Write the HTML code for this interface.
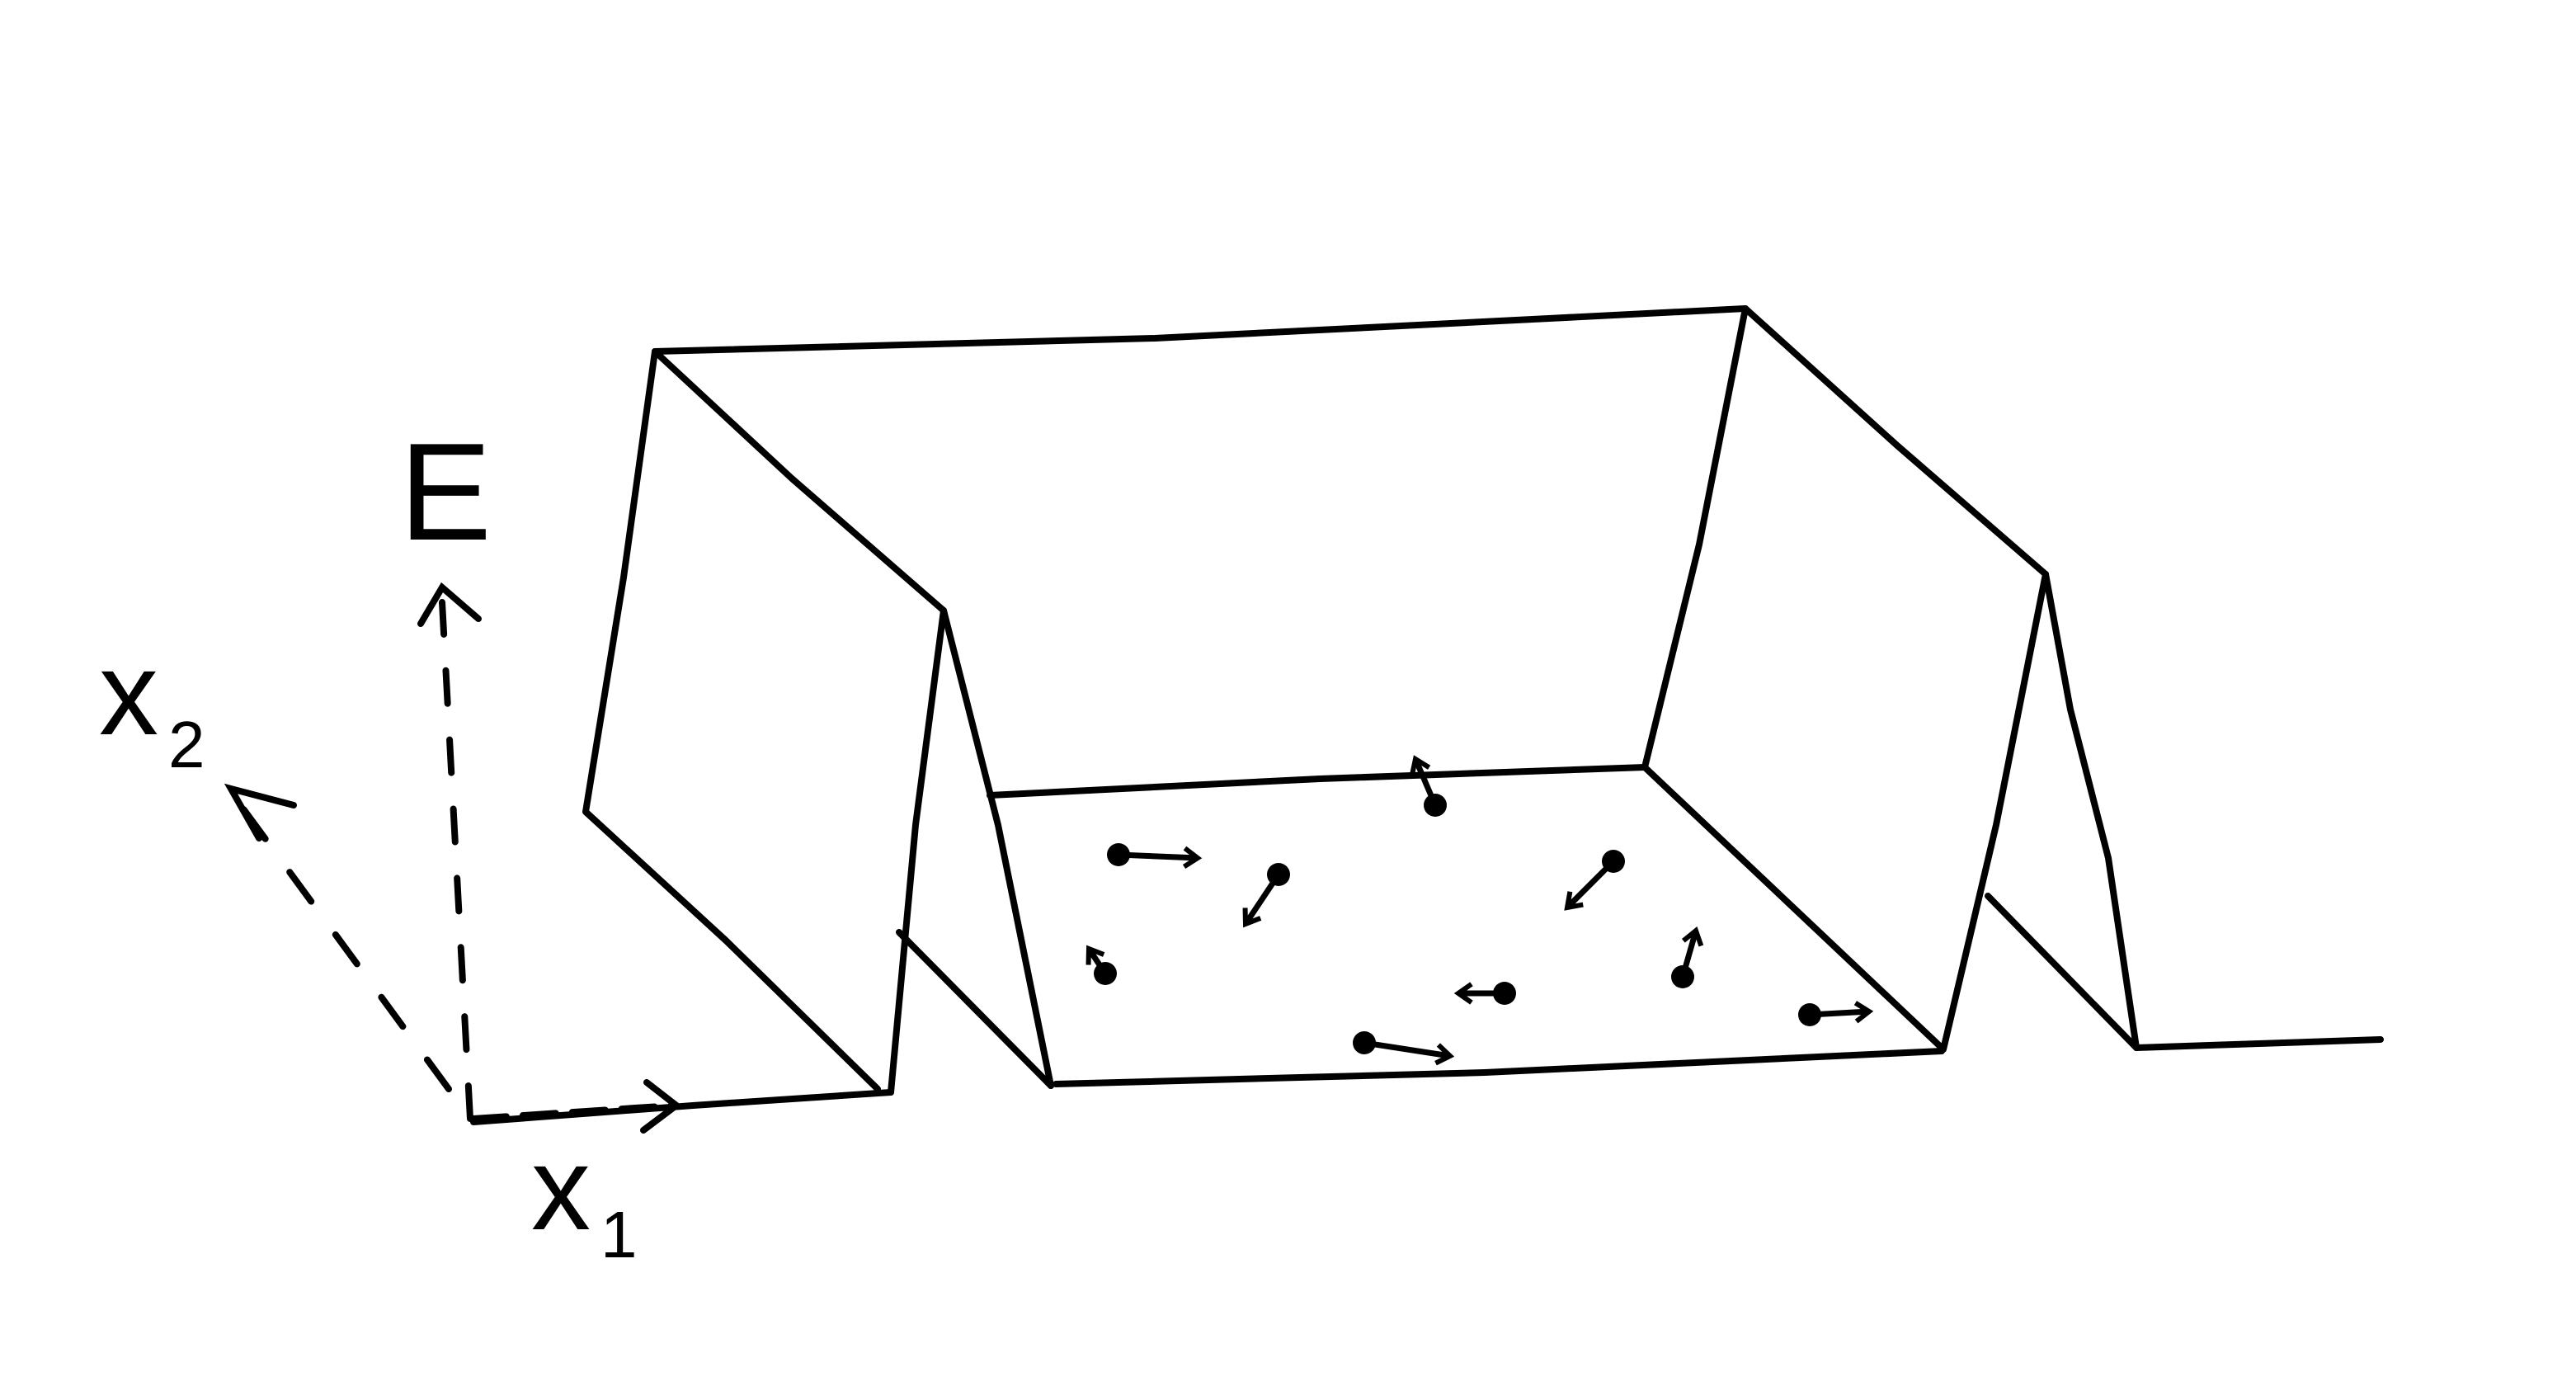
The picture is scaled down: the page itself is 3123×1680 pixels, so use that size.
<!DOCTYPE html>
<html><head><meta charset="utf-8"><style>
html,body{margin:0;padding:0;background:#fff;width:3123px;height:1680px;overflow:hidden}
svg{display:block}
</style></head><body>
<svg id="sk" width="3123" height="1680" viewBox="0 0 1561.5 840" xmlns="http://www.w3.org/2000/svg">
<g fill="none" stroke="#000" stroke-width="4" stroke-linecap="round" stroke-linejoin="round">
  <path d="M397 213 L700 205 L1058 187"/>
  <path d="M397 213 L378 350 L355 492 L440 570 L532 660"/>
  <path d="M397 213 L480 290 L572 370"/>
  <path d="M572 370 L555 500 L540 662"/>
  <path d="M572 370 L605 500 L637 658"/>
  <path d="M545 565 L637 658"/>
  <path d="M287 680 L420 670 L540 662"/>
  <path d="M600 482 L800 472 L997 465"/>
  <path d="M997 465 L1177 635"/>
  <path d="M640 657 L900 650 L1177 637"/>
  <path d="M1058 187 L1030 330 L997 465"/>
  <path d="M1058 187 L1150 270 L1240 348"/>
  <path d="M1240 348 L1210 500 L1178 636"/>
  <path d="M1240 348 L1255 430 L1278 520 L1295 635"/>
  <path d="M1205 543 L1295 635"/>
  <path d="M1295 635 L1443 630"/>
</g>
<g fill="none" stroke="#000" stroke-width="4" stroke-linecap="round">
  <path d="M285 678 L268 365" stroke-dasharray="20 22"/>
  <path d="M255 378 L268 356 L290 375"/>
  <path d="M272 660 L140 480" stroke-dasharray="22 25"/>
  <path d="M157 508 L140 478 L178 488"/>
  <path d="M287 678 L408 670" stroke-dasharray="20 10"/>
  <path d="M392 656 L410 670 L390 685"/>
</g>
<text x="242" y="327" font-family="Liberation Sans, sans-serif" font-size="84" font-weight="300">E</text>
<text x="60" y="445" font-family="Liberation Sans, sans-serif" font-size="72">x</text>
<text x="102" y="465" font-family="Liberation Sans, sans-serif" font-size="40">2</text>
<text x="322" y="745" font-family="Liberation Sans, sans-serif" font-size="72">x</text>
<text x="364" y="762" font-family="Liberation Sans, sans-serif" font-size="40">1</text>
<g id="particles"></g>
</svg>
<script>
const px = [870, 678, 775, 670, 978, 1020, 912, 827, 1097];
const py = [488, 518, 530, 590, 522, 592, 602, 632, 615];
const dx = [-12, 48, -20, -10, -28, 8, -28, 52, 36];
const dy = [-28, 2, 30, -15, 28, -28, 0, 8, -2];
const g = document.getElementById('particles');
const NS = 'http://www.w3.org/2000/svg';
for (let i = 0; i < px.length; i++) {
  const c = document.createElementNS(NS, 'circle');
  
  
  c.setAttribute('cx', px[i]); c.setAttribute('cy', py[i]); c.setAttribute('r', 7);
  g.appendChild(c);
  const l = document.createElementNS(NS, 'line');
  
  
  const ex = px[i] + dx[i], ey = py[i] + dy[i];
  l.setAttribute('x1', px[i]); l.setAttribute('y1', py[i]);
  l.setAttribute('x2', ex); l.setAttribute('y2', ey);
  l.setAttribute('stroke', '#000'); l.setAttribute('stroke-width', 3.5);
  g.appendChild(l);
  const len = Math.hypot(dx[i], dy[i]) || 1, ux = dx[i] / len, uy = dy[i] / len;
  const h = document.createElementNS(NS, 'path');
  
  
  const a = 8;
  h.setAttribute('d', `M${ex - a*ux - a*0.7*uy} ${ey - a*uy + a*0.7*ux} L${ex} ${ey} L${ex - a*ux + a*0.7*uy} ${ey - a*uy - a*0.7*ux}`);
  h.setAttribute('fill', 'none'); h.setAttribute('stroke', '#000'); h.setAttribute('stroke-width', 3);
  g.appendChild(h);
}
</script>
</body></html>
